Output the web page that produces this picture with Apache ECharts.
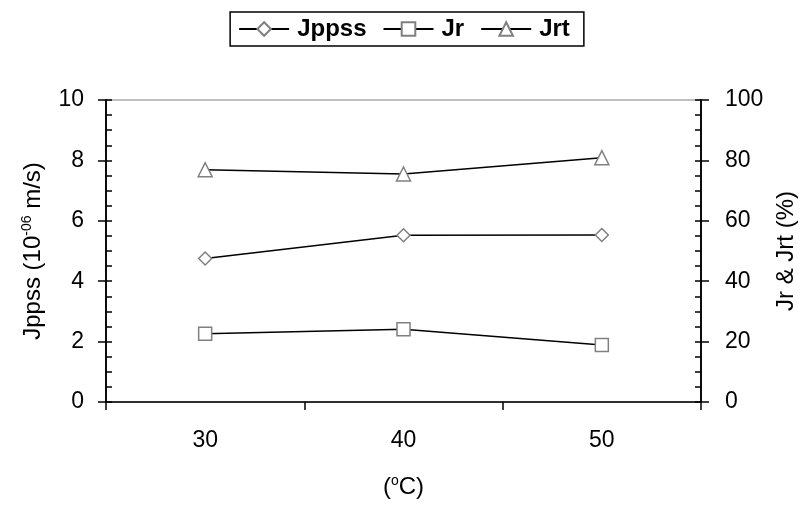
<!DOCTYPE html>
<html>
<head>
<meta charset="utf-8">
<script src="https://cdn.jsdelivr.net/npm/echarts@6/dist/echarts.min.js"></script>
<style>
  html, body { margin: 0; padding: 0; background: #fff; }
  #chart { width: 808px; height: 508px; }
</style>
</head>
<body>
<div id="chart"></div>
<script>
// temperatures (x categories)
var temps = ['30', '40', '50'];
// Jppss, 10^-06 m/s (left axis)
var jppss = [4.75, 5.52, 5.53];
// Jr and Jrt, % (right axis)
var jr = [22.6, 24.1, 18.9];
var jrt = [76.9, 75.5, 80.9];

var font = 'Liberation Sans, Arial, sans-serif';
var grey = '#808080';
var fs = 23;
var nameFs = 24;

var chart = echarts.init(document.getElementById('chart'));

function lineSeries(name, data, axis, symbol, size) {
  return {
    name: name,
    type: 'line',
    yAxisIndex: axis,
    data: data,
    symbol: symbol,
    symbolSize: size,
    lineStyle: { color: '#000', width: 1.5 },
    itemStyle: { color: '#fff', borderColor: grey, borderWidth: 1.5 },
    emphasis: { disabled: true },
    z: 3
  };
}

// ticks crossing the axis: one axis ticks inside (with minor ticks), a twin ticks outside
function yAxisPair(pos, max, interval, name, nameGap, nameRich) {
  var base = {
    type: 'value',
    position: pos,
    min: 0,
    max: max,
    interval: interval,
    splitLine: { show: false },
    axisLine: { show: true, lineStyle: { color: '#000', width: 1.5 } }
  };
  var inner = Object.assign({}, base, {
    axisTick: { show: true, inside: true, length: 6, lineStyle: { color: '#000', width: 1.5 } },
    minorTick: { show: true, splitNumber: 4, length: 6, lineStyle: { color: '#000', width: 1.5 } },
    axisLabel: { show: false }
  });
  var outer = Object.assign({}, base, {
    axisTick: { show: true, inside: false, length: 8, lineStyle: { color: '#000', width: 1.5 } },
    axisLabel: { show: true, color: '#000', fontSize: fs, fontFamily: font, margin: pos === 'left' ? 22 : 24 },
    name: name,
    nameLocation: 'middle',
    nameGap: nameGap,
    nameMoveOverlap: false,
    nameRotate: 90,
    nameTextStyle: { color: '#000', fontSize: nameFs, fontFamily: font, rich: nameRich }
  });
  return [inner, outer];
}

var supStyle = { fontSize: 14, fontFamily: font, color: '#000', verticalAlign: 'top', padding: [0, 0, 13, 0] };

var leftAxes = yAxisPair('left', 10, 2, 'Jppss (10{sup|-06} m/s)', 59, { sup: supStyle });
var rightAxes = yAxisPair('right', 100, 20, 'Jr & Jrt (%)', 73, {});

var option = {
  animation: false,
  backgroundColor: '#fff',
  legend: {
    top: 12,
    left: 'center',
    padding: [5, 14, 5, 8],
    borderColor: '#000',
    borderWidth: 1.5,
    itemWidth: 50,
    itemHeight: 17,
    itemGap: 16,
    textStyle: { color: '#000', fontSize: 24, fontWeight: 'bold', fontFamily: font, padding: [0, 0, 0, 3] },
    data: ['Jppss', 'Jr', 'Jrt']
  },
  grid: {
    left: 106,
    right: 107,
    top: 100,
    bottom: 106,
    show: true,
    borderColor: grey,
    borderWidth: 1
  },
  xAxis: {
    type: 'category',
    data: temps,
    boundaryGap: true,
    axisLine: { show: true, lineStyle: { color: '#000', width: 1.5 } },
    axisTick: { show: true, inside: false, length: 8, lineStyle: { color: '#000', width: 1.5 } },
    axisLabel: { color: '#000', fontSize: fs, fontFamily: font, margin: 27 },
    splitLine: { show: false },
    name: '({sup|o}C)',
    nameLocation: 'middle',
    nameGap: 72,
    nameMoveOverlap: false,
    nameTextStyle: { color: '#000', fontSize: nameFs, fontFamily: font, rich: { sup: supStyle } }
  },
  yAxis: [leftAxes[0], leftAxes[1], rightAxes[0], rightAxes[1]],
  series: [
    lineSeries('Jppss', jppss, 0, 'diamond', 13),
    lineSeries('Jr', jr, 2, 'rect', 13),
    lineSeries('Jrt', jrt, 2, 'triangle', 14)
  ]
};

chart.setOption(option);
</script>
</body>
</html>
